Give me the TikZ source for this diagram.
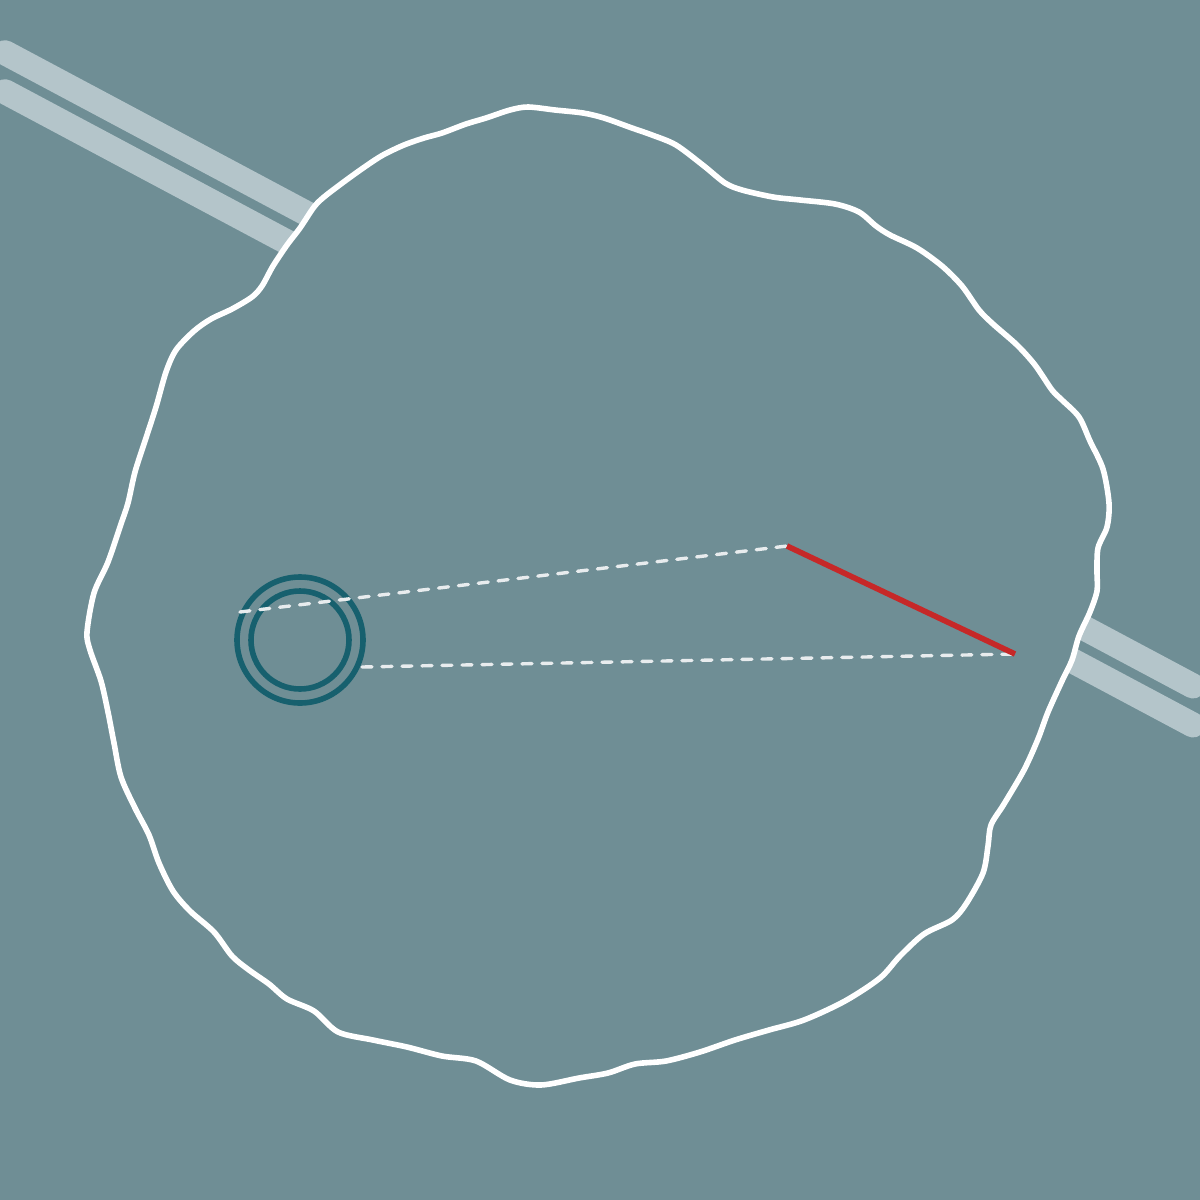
\documentclass[tikz,border=0pt]{standalone}
\definecolor{bgc}{HTML}{6F8E95}
\definecolor{roadc}{HTML}{B4C5CA}
\definecolor{ringc}{HTML}{17606E}
\definecolor{dashc}{HTML}{E8ECEE}
\definecolor{redc}{HTML}{C62828}
\tikzset{
  road/.style={roadc, line width=12.5pt, line cap=round},
  blob/.style={white, line width=2.8pt, fill=bgc, line join=round},
  ring/.style={ringc, line width=2.8pt},
  dashline/.style={dashc, line width=1.7pt, line cap=round, dash pattern=on 5pt off 5pt},
  redline/.style={redc, line width=2.8pt}
}
\begin{document}
\begin{tikzpicture}[x=0.5pt,y=-0.5pt]
\fill[bgc] (0,0) rectangle (1200,1200);
\useasboundingbox (0,0) rectangle (1200,1200);
% road
\coordinate (r1a) at (5,52.7);
\coordinate (r1b) at (1193,686);
\coordinate (r2a) at (5,91.7);
\coordinate (r2b) at (1193,725);
\draw[road] (r1a) -- (r1b);
\draw[road] (r2a) -- (r2b);
% blob
\draw[blob] plot[smooth cycle, tension=0.5] coordinates {
(528,107) (555,110) (583,113) (604,118) (632,128) (652,135) (676,145) (704,166) (725,183) (742,190) (773,197) (800,200) (835,204) (859,212) (876,226) (890,235) (917,248) (942,266) (962,286) (979,310) (993,324) (1017,345) (1035,365) (1052,390) (1062,400) (1079,417) (1090,441) (1103,469) (1109,503) (1107,527) (1098,548) (1097,572) (1097,591) (1090,612) (1079,636) (1072,660) (1062,681) (1048,712) (1038,739) (1024,770) (1004,804) (991,825) (988,846) (983,873) (966,904) (952,920) (924,934) (900,956) (880,978) (845,1001) (804,1020) (769,1030) (735,1040) (700,1052) (666,1061) (635,1064) (608,1073) (579,1078) (541,1085) (510,1080) (476,1061) (442,1056) (407,1047) (373,1040) (338,1032) (314,1011) (287,999) (269,984) (249,970) (232,956) (214,932) (190,911) (173,891) (159,863) (149,835) (135,808) (121,777) (114,743) (108,712) (101,681) (90,650) (87,632) (94,593) (108,562) (121,524) (128,503) (135,472) (145,441) (156,407) (166,372) (176,350) (194,331) (211,319) (232,309) (252,297) (262,286) (273,266) (287,245) (300,228) (314,207) (324,197) (345,181) (366,166) (383,155) (404,145) (424,138) (442,133) (466,124) (486,118) (510,110)};
% rings
\node[draw=none, inner sep=0pt] (c) at (300,640) {};
\draw[ring] (c) circle[radius=31.5pt];
\draw[ring] (c) circle[radius=24.5pt];
% lines
\coordinate (a) at (240,612);
\coordinate (p) at (787,546);
\coordinate (b) at (362,667);
\coordinate (q) at (1015,654);
\draw[dashline] (a) -- (p);
\draw[dashline] (b) -- (q);
\draw[redline] (p) -- (q);
\end{tikzpicture}
\end{document}
